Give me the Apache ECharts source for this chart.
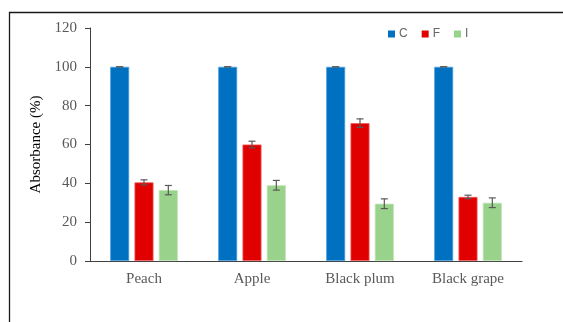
<!DOCTYPE html>
<html>
<head>
<meta charset="utf-8">
<script src="https://cdn.jsdelivr.net/npm/echarts@6/dist/echarts.min.js"></script>
<style>
  html, body { margin: 0; padding: 0; background: #fff; }
  #chart { width: 563px; height: 322px; }
</style>
</head>
<body>
<div id="chart"></div>
<script>
// Fruit extracts and absorbance of the three treatments
const categories = ['Peach', 'Apple', 'Black plum', 'Black grape'];
const seriesNames = ['C', 'F', 'I'];
const valuesC = [100, 100, 100, 100];
const valuesF = [40.5, 60, 71, 33];
const valuesI = [36.5, 39, 29.5, 30];
// standard deviations shown as error bars
const errorsC = [0, 0, 0, 0];
const errorsF = [1.3, 1.7, 2.2, 0.9];
const errorsI = [2.4, 2.5, 2.5, 2.5];
const yTicks = [0, 20, 40, 60, 80, 100, 120];

const colors = ['#0070C0', '#E00000', '#99D38B'];
const edgeColors = ['#4A9FE0', '#F05A5A', '#BCE3B2'];
const BAR_W = 19;
const BAR_GAP = 0.28;

const allValues = [valuesC, valuesF, valuesI];
const allErrors = [errorsC, errorsF, errorsI];

const chart = echarts.init(document.getElementById('chart'), null, { renderer: 'canvas' });

const barSeries = seriesNames.map((name, i) => ({
  name: name,
  type: 'bar',
  data: allValues[i],
  barWidth: BAR_W,
  barGap: (BAR_GAP * 100) + '%',
  itemStyle: { color: colors[i], borderColor: edgeColors[i], borderWidth: 0.8 },
  emphasis: { disabled: true },
  z: 2
}));

// error bars drawn on top of each bar group
const errorSeries = seriesNames.map((name, i) => ({
  type: 'custom',
  name: name + ' error',
  silent: true,
  z: 5,
  data: allValues[i].map((v, k) => [k, v, allErrors[i][k]]),
  renderItem: function (params, api) {
    const k = api.value(0);
    const v = api.value(1);
    const e = api.value(2);
    const offset = (i - 1) * BAR_W * (1 + BAR_GAP);
    const hi = api.coord([k, v + e]);
    const lo = api.coord([k, v - e]);
    const x = hi[0] + offset;
    const cap = 3.5;
    const style = { stroke: '#595959', lineWidth: 1.2, fill: null };
    return {
      type: 'group',
      children: [
        { type: 'line', shape: { x1: x, y1: hi[1], x2: x, y2: lo[1] }, style: style },
        { type: 'line', shape: { x1: x - cap, y1: hi[1], x2: x + cap, y2: hi[1] }, style: style },
        { type: 'line', shape: { x1: x - cap, y1: lo[1], x2: x + cap, y2: lo[1] }, style: style }
      ]
    };
  }
}));

chart.setOption({
  animation: false,
  backgroundColor: '#ffffff',
  grid: { left: 90, right: 41, top: 28, bottom: 61, containLabel: false },
  legend: {
    data: seriesNames,
    top: 28,
    left: 388,
    padding: 0,
    itemWidth: 7,
    itemHeight: 7,
    itemGap: 14,
    icon: 'rect',
    itemStyle: { borderWidth: 0 },
    textStyle: { fontFamily: 'Liberation Sans, Arial, sans-serif', fontSize: 12, color: '#666666', padding: [0, 0, 0, -1] }
  },
  xAxis: {
    type: 'category',
    data: categories,
    axisLine: { lineStyle: { color: '#404040', width: 1.2 } },
    axisTick: { show: false },
    axisLabel: { fontFamily: 'Liberation Serif, Times New Roman, serif', fontSize: 15, color: '#595959', margin: 11 }
  },
  yAxis: {
    type: 'value',
    min: yTicks[0],
    max: yTicks[yTicks.length - 1],
    interval: yTicks[1] - yTicks[0],
    name: 'Absorbance (%)',
    nameLocation: 'middle',
    nameGap: 36,
    nameTextStyle: { fontFamily: 'Liberation Serif, Times New Roman, serif', fontSize: 15, color: '#000000' },
    axisLine: { show: true, lineStyle: { color: '#404040', width: 1 } },
    axisTick: { show: true, length: 5, lineStyle: { color: '#404040' } },
    splitLine: { show: false },
    axisLabel: { fontFamily: 'Liberation Serif, Times New Roman, serif', fontSize: 15, color: '#595959', margin: 13 }
  },
  graphic: [{
    type: 'polyline',
    silent: true,
    shape: { points: [[9.5, 322], [9.5, 12.5], [563, 12.5]] },
    style: { stroke: '#1a1a1a', lineWidth: 1.3, fill: null }
  }],
  series: barSeries.concat(errorSeries)
});
</script>
</body>
</html>
